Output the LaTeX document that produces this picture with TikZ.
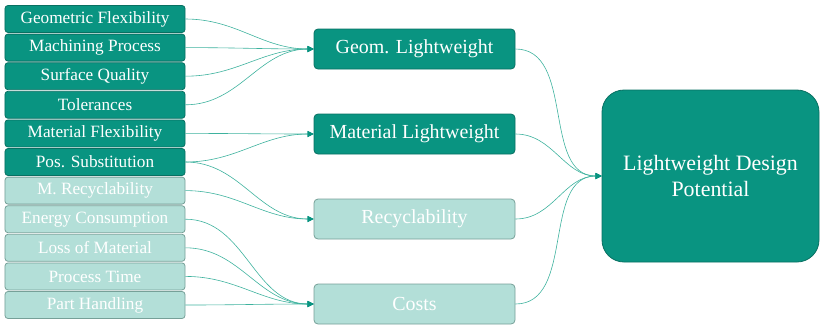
\documentclass[tikz,border=0pt]{standalone}
\usepackage{fontspec}
\setmainfont{Liberation Serif}
\usetikzlibrary{arrows.meta}
\definecolor{darkfill}{RGB}{9,148,129}
\definecolor{darkedge}{RGB}{8,112,98}
\definecolor{lightfill}{RGB}{179,223,216}
\definecolor{lightedge}{RGB}{118,160,152}
\definecolor{connc}{RGB}{62,178,158}
\definecolor{tipc}{RGB}{9,148,129}
\tikzset{
  leftbox/.style={draw=darkedge, fill=darkfill, line width=0.8bp, rounded corners=3bp,
    minimum width=180bp, minimum height=27bp, inner sep=0pt, text=white,
    font=\rmfamily\fontsize{17.3}{20}\selectfont},
  leftlight/.style={leftbox, draw=lightedge, fill=lightfill},
  midbox/.style={draw=darkedge, fill=darkfill, line width=0.8bp, rounded corners=4bp,
    minimum width=201bp, minimum height=40bp, inner sep=0pt, text=white,
    font=\rmfamily\fontsize{20}{23}\selectfont},
  midlight/.style={midbox, draw=lightedge, fill=lightfill},
  bigbox/.style={draw=darkedge, fill=darkfill, line width=0.8bp, rounded corners=22bp,
    minimum width=217bp, minimum height=172bp, inner sep=0pt, text=white, align=center,
    font=\rmfamily\fontsize{22}{27}\selectfont},
  conn/.style={draw=connc, line width=0.6bp, -{Triangle[length=6bp,width=6bp,color=tipc]}}
}
\begin{document}
\begin{tikzpicture}[x=1bp,y=-1bp]
\useasboundingbox (0,0) rectangle (820,324);
\node[leftbox] (gf) at (95,19) {Geometric Flexibility};
\node[leftbox] (mp) at (95,47.6) {Machining Process};
\node[leftbox] (sq) at (95,76.2) {Surface Quality};
\node[leftbox] (to) at (95,104.8) {Tolerances};
\node[leftbox] (mf) at (95,133.4) {Material Flexibility};
\node[leftbox] (ps) at (95,162) {Pos. Substitution};
\node[leftlight] (mr) at (95,190.6) {M. Recyclability};
\node[leftlight] (ec) at (95,219.2) {Energy Consumption};
\node[leftlight] (lm) at (95,247.8) {Loss of Material};
\node[leftlight] (pt) at (95,276.4) {Process Time};
\node[leftlight] (ph) at (95,305) {Part Handling};

\node[midbox] (gl) at (414.5,49) {Geom. Lightweight};
\node[midbox] (ml) at (414.5,134) {Material Lightweight};
\node[midlight] (rc) at (414.5,219) {Recyclability};
\node[midlight] (co) at (414.5,304) {Costs};

\node[bigbox] (ld) at (710.5,176) {Lightweight Design\\Potential};

\foreach \a/\b in {gf/gl, mp/gl, sq/gl, to/gl, mf/ml, ps/ml, ps/rc, mr/rc, ec/co, lm/co, pt/co, ph/co, gl/ld, ml/ld, rc/ld, co/ld}
  \draw[conn] (\a.east) to[out=0,in=180] (\b.west);
\end{tikzpicture}
\end{document}
